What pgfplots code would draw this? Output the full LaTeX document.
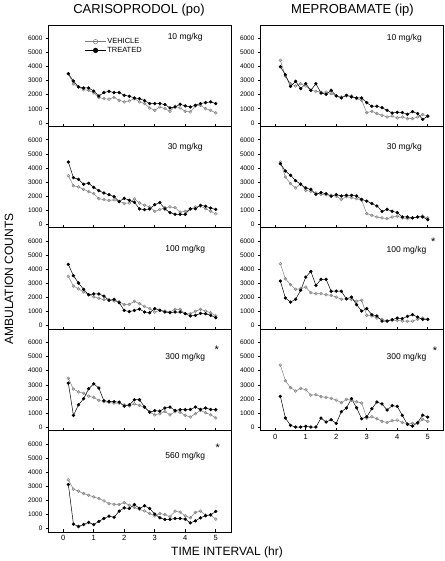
\documentclass[border=0pt]{standalone}
\usepackage{fontspec}
\setmainfont{Liberation Sans}
\usepackage{pgfplots}
\usepackage{pgfplotstable}
\pgfplotsset{compat=1.18}

% columns: t (hr), vehicle, treated
\pgfplotstableread{
t v d
0.1667 3490 3490
0.3333 2760 2970
0.5 2550 2550
0.6667 2360 2480
0.8333 2310 2480
1.0 2130 2260
1.1667 1800 1910
1.3333 1720 2150
1.5 1680 2240
1.6667 1810 2150
1.8333 1600 2150
2.0 1490 1960
2.1667 1560 1890
2.3333 1720 1770
2.5 1490 1720
2.6667 1370 1580
2.8333 1060 1370
3.0 890 1370
3.1667 1130 1370
3.3333 1010 1300
3.5 820 1060
3.6667 1180 1130
3.8333 1060 1320
4.0 820 1200
4.1667 780 1130
4.3333 1200 1250
4.5 1250 1370
4.6667 1010 1440
4.8333 890 1490
5.0 710 1370
}\LA
\pgfplotstableread{
t v d
0.1667 3450 4420
0.3333 2740 3310
0.5 2650 3190
0.6667 2480 2840
0.8333 2320 2910
1.0 2170 2620
1.1667 1820 2390
1.3333 1750 2220
1.5 1700 2100
1.6667 1730 1960
1.8333 1630 1610
2.0 1490 1840
2.1667 1510 1700
2.3333 1800 1560
2.5 1510 1090
2.6667 1350 1040
2.8333 1230 1090
3.0 920 1390
3.1667 1040 1540
3.3333 1180 1090
3.5 1230 830
3.6667 1180 710
3.8333 870 710
4.0 920 710
4.1667 1060 1100
4.3333 1230 1100
4.5 1280 1350
4.6667 1110 1280
4.8333 920 1150
5.0 730 1050
}\LB
\pgfplotstableread{
t v d
0.1667 3500 4350
0.3333 2810 3550
0.5 2620 3030
0.6667 2390 2580
0.8333 2200 2200
1.0 2050 2250
1.1667 1950 2250
1.3333 1850 2100
1.5 1850 1800
1.6667 1750 1870
1.8333 1700 1630
2.0 1490 1080
2.1667 1510 1000
2.3333 1730 1080
2.5 1560 1180
2.6667 1370 970
2.8333 1210 920
3.0 970 1210
3.1667 1090 1090
3.3333 1040 970
3.5 970 920
3.6667 1160 970
3.8333 1160 970
4.0 850 850
4.1667 850 690
4.3333 1020 730
4.5 1160 870
4.6667 1040 850
4.8333 920 730
5.0 690 570
}\LC
\pgfplotstableread{
t v d
0.1667 3470 3120
0.3333 2700 830
0.5 2500 1580
0.6667 2400 2010
0.8333 2200 2720
1.0 2100 3070
1.1667 1900 2770
1.3333 1800 1870
1.5 1750 1820
1.6667 1700 1800
1.8333 1700 1770
2.0 1580 1490
2.1667 1500 1580
2.3333 1650 1940
2.5 1540 1940
2.6667 1400 1420
2.8333 1060 1060
3.0 870 1160
3.1667 950 1130
3.3333 1110 1350
3.5 870 1420
3.6667 1100 1180
3.8333 1050 1230
4.0 830 1230
4.1667 710 1250
4.3333 950 1420
4.5 1180 1250
4.6667 1020 1350
4.8333 870 1250
5.0 660 1230
}\LD
\pgfplotstableread{
t v d
0.1667 3450 3120
0.3333 2790 310
0.5 2650 140
0.6667 2480 280
0.8333 2360 430
1.0 2240 280
1.1667 2130 500
1.3333 1960 710
1.5 1770 870
1.6667 1720 800
1.8333 1700 1230
2.0 1840 1470
2.1667 1650 1420
2.3333 1490 1700
2.5 1350 1420
2.6667 1250 1610
2.8333 1060 1420
3.0 900 1020
3.1667 1060 760
3.3333 990 640
3.5 830 640
3.6667 1230 710
3.8333 1160 710
4.0 900 660
4.1667 760 400
4.3333 1140 540
4.5 1230 760
4.6667 950 900
4.8333 950 970
5.0 660 1210
}\LE
\pgfplotstableread{
t v d
0.1667 4440 3990
0.3333 3310 3420
0.5 2780 2590
0.6667 2620 2950
0.8333 2780 2430
1.0 2620 2780
1.1667 2310 2310
1.3333 2240 2780
1.5 2190 2120
1.6667 2190 2030
1.8333 2070 2310
2.0 1910 1910
2.1667 1840 1770
2.3333 1910 1960
2.5 1910 1840
2.6667 1720 1770
2.8333 1600 1770
3.0 730 1430
3.1667 820 1180
3.3333 660 1180
3.5 540 1080
3.6667 420 890
3.8333 490 700
4.0 350 750
4.1667 420 730
4.3333 300 610
4.5 300 800
4.6667 420 660
4.8333 590 250
5.0 490 470
}\RA
\pgfplotstableread{
t v d
0.1667 4420 4300
0.3333 3360 3780
0.5 2880 3480
0.6667 2580 3100
0.8333 2880 2840
1.0 2410 2580
1.1667 2340 2480
1.3333 2220 2130
1.5 2130 2250
1.6667 2100 2170
1.8333 2060 1990
2.0 1990 2100
2.1667 1770 2010
2.3333 1960 2060
2.5 1890 2060
2.6667 1820 2010
2.8333 1700 1770
3.0 760 1650
3.1667 640 1470
3.3333 520 1300
3.5 450 920
3.6667 400 1060
3.8333 520 920
4.0 570 830
4.1667 450 520
4.3333 400 520
4.5 450 450
4.6667 520 520
4.8333 590 520
5.0 450 330
}\RB
\pgfplotstableread{
t v d
0.1667 4400 3170
0.3333 3330 1960
0.5 2910 1680
0.6667 2580 1870
0.8333 2620 2510
1.0 2740 3450
1.1667 2340 3850
1.3333 2270 2860
1.5 2270 3290
1.6667 2200 3290
1.8333 2150 2440
2.0 2030 2460
2.1667 1870 2440
2.3333 1910 1900
2.5 1870 2030
2.6667 1730 1490
2.8333 1800 1040
3.0 730 1210
3.1667 690 780
3.3333 540 690
3.5 450 330
3.6667 310 330
3.8333 380 430
4.0 380 540
4.1667 330 500
4.3333 310 660
4.5 330 780
4.6667 450 610
4.8333 540 450
5.0 450 450
}\RC
\pgfplotstableread{
t v d
0.1667 4400 2180
0.3333 3290 640
0.5 2800 120
0.6667 2560 0
0.8333 2750 0
1.0 2650 50
1.1667 2270 0
1.3333 2300 0
1.5 2160 640
1.6667 2110 360
1.8333 2040 520
2.0 1920 260
2.1667 1730 1090
2.3333 1970 1350
2.5 1900 2020
2.6667 1800 1370
2.8333 1710 590
3.0 640 730
3.1667 730 1300
3.3333 590 1780
3.5 400 1640
3.6667 330 1210
3.8333 450 1520
4.0 500 1470
4.1667 330 830
4.3333 240 190
4.5 260 70
4.6667 260 310
4.8333 550 850
5.0 400 710
}\RD

\pgfplotsset{
  panel/.style={
    scale only axis, width=183pt, height=101.4pt,
    xmin=-0.5, xmax=5.5, ymin=-250, ymax=6950,
    xtick={0,1,2,3,4,5}, ytick={0,1000,2000,3000,4000,5000,6000},
    xtick pos=left, ytick pos=left,
    tick align=inside, major tick length=2.5pt,
    ytick style={xshift=-2.5pt},
    yticklabel style={font=\fontsize{6.5}{6.5}\selectfont, xshift=-2pt,
      /pgf/number format/1000 sep={}, /pgf/number format/assume math mode=true},
    xticklabel style={font=\fontsize{7.5}{8}\selectfont,
      /pgf/number format/assume math mode=true},
    axis line style={line width=0.7pt},
    every tick/.style={black, line width=0.6pt},
    anchor=north west,
  },
  veh/.style={color=gray, line width=0.5pt, mark=o, mark size=1.4pt,
    mark options={fill=white, line width=0.5pt}},
  trt/.style={color=black, line width=0.5pt, mark=*, mark size=1.4pt},
}
\newcommand{\lab}[3]{\node[font=\fontsize{8.5}{9}\selectfont] at (axis cs:#1,#2) {#3};}
\newcommand{\sigstar}[2]{\node[font=\fontsize{11}{11}\selectfont] at (axis cs:#1,#2) {*};}

\begin{document}
\begin{tikzpicture}
\path[use as bounding box] (0,0) rectangle (444pt,561pt);
\node[font=\fontsize{13}{14}\selectfont] at (139pt,550.5pt) {CARISOPRODOL (po)};
\node[font=\fontsize{13}{14}\selectfont] at (352.5pt,550.5pt) {MEPROBAMATE (ip)};
\node[rotate=90, font=\fontsize{12}{13}\selectfont] at (9pt,282pt) {AMBULATION COUNTS};
\node[font=\fontsize{12}{13}\selectfont] at (227pt,9pt) {TIME INTERVAL (hr)};

% ---------- left column ----------
\begin{axis}[panel, at={(48pt,536pt)}, xticklabels={},
  legend style={draw=none, fill=none, at={(0.2,0.88)}, anchor=north west,
    font=\fontsize{7.5}{8}\selectfont, inner sep=0pt, row sep=0pt,
    nodes={inner sep=1pt}},
  legend cell align=left,
  legend image code/.code={\draw[#1, mark repeat=2, mark phase=2, mark size=2.3pt]
    plot coordinates {(0pt,0pt) (10.5pt,0pt) (21pt,0pt)};}]
\addplot[veh] table[x=t,y=v] {\LA};
\addplot[trt] table[x=t,y=d] {\LA};
\legend{VEHICLE,TREATED}
\lab{4.0}{6080}{10 mg/kg}
\end{axis}
\begin{axis}[panel, at={(48pt,434.6pt)}, xticklabels={}]
\addplot[veh] table[x=t,y=v] {\LB};
\addplot[trt] table[x=t,y=d] {\LB};
\lab{4.0}{5440}{30 mg/kg}
\end{axis}
\begin{axis}[panel, at={(48pt,333.2pt)}, xticklabels={}]
\addplot[veh] table[x=t,y=v] {\LC};
\addplot[trt] table[x=t,y=d] {\LC};
\lab{4.0}{5440}{100 mg/kg}
\end{axis}
\begin{axis}[panel, at={(48pt,231.8pt)}, xticklabels={}]
\addplot[veh] table[x=t,y=v] {\LD};
\addplot[trt] table[x=t,y=d] {\LD};
\lab{4.0}{4980}{300 mg/kg}
\sigstar{5.03}{5500}
\end{axis}
\begin{axis}[panel, at={(48pt,130.4pt)}]
\addplot[veh] table[x=t,y=v] {\LE};
\addplot[trt] table[x=t,y=d] {\LE};
\lab{4.0}{5090}{560 mg/kg}
\sigstar{5.07}{5700}
\end{axis}

% ---------- right column ----------
\begin{axis}[panel, at={(260pt,536pt)}, xticklabels={}]
\addplot[veh] table[x=t,y=v] {\RA};
\addplot[trt] table[x=t,y=d] {\RA};
\lab{4.23}{6000}{10 mg/kg}
\end{axis}
\begin{axis}[panel, at={(260pt,434.6pt)}, xticklabels={}]
\addplot[veh] table[x=t,y=v] {\RB};
\addplot[trt] table[x=t,y=d] {\RB};
\lab{4.23}{5450}{30 mg/kg}
\end{axis}
\begin{axis}[panel, at={(260pt,333.2pt)}, xticklabels={}]
\addplot[veh] table[x=t,y=v] {\RC};
\addplot[trt] table[x=t,y=d] {\RC};
\lab{4.3}{5370}{100 mg/kg}
\sigstar{5.18}{5950}
\end{axis}
\begin{axis}[panel, at={(260pt,231.8pt)}]
\addplot[veh] table[x=t,y=v] {\RD};
\addplot[trt] table[x=t,y=d] {\RD};
\lab{4.3}{4950}{300 mg/kg}
\sigstar{5.24}{5450}
\end{axis}
\end{tikzpicture}
\end{document}
